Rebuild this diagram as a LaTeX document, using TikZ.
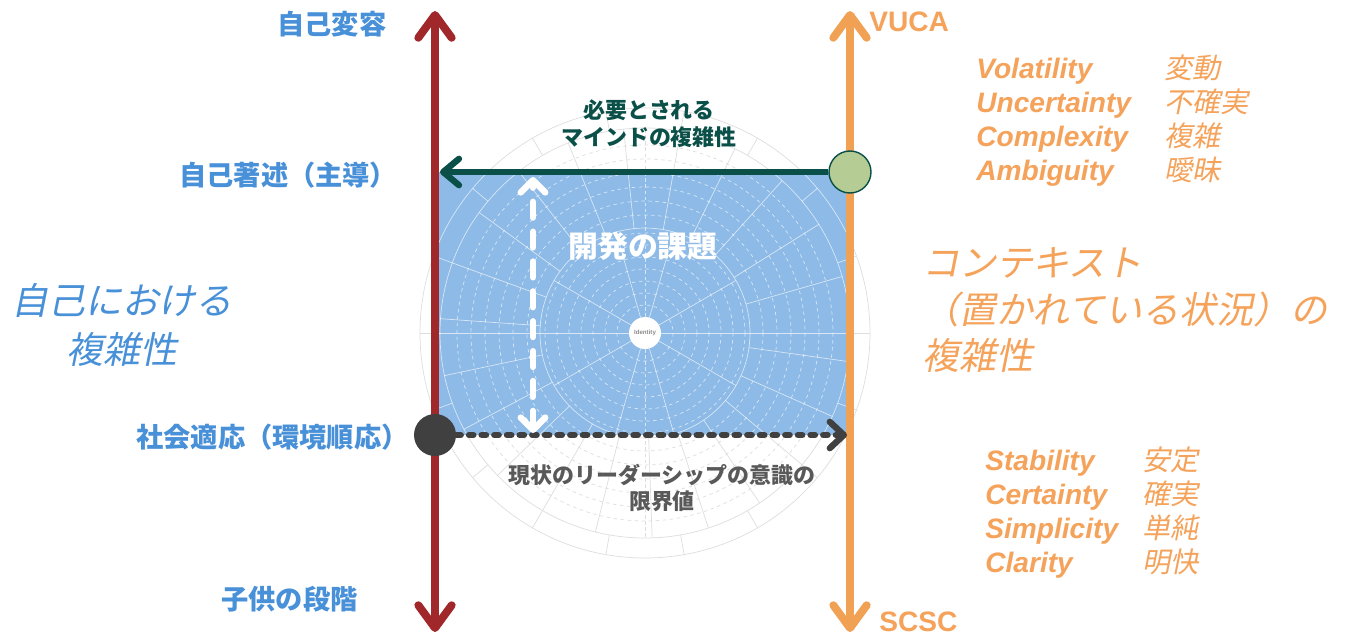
\documentclass[tikz,border=0pt]{standalone}
\usepackage{fontspec}
\setmainfont{Liberation Sans}
\newfontfamily\jp{Noto Sans CJK JP}
\newfontfamily\jpsl{Noto Sans CJK JP}[FakeSlant=0.2]
\usetikzlibrary{arrows.meta}

\definecolor{selfred}{RGB}{160,40,42}
\definecolor{ctxorange}{RGB}{241,161,84}
\definecolor{txtorange}{RGB}{245,162,90}
\definecolor{selfblue}{RGB}{72,144,216}
\definecolor{areablue}{RGB}{141,186,230}
\definecolor{mindteal}{RGB}{10,80,72}
\definecolor{nowgray}{RGB}{64,64,64}
\definecolor{dotgreen}{RGB}{181,204,148}
\definecolor{capgray}{RGB}{89,89,89}

% faint identity wheel behind the chart
\newcommand\wheel{%
  \draw (0,0) circle (105) (0,0) circle (205) (0,0) circle (225);
  \draw (-225,0) -- (225,0);
  \foreach \a in {30,74,106,150,210,254,286,330} \draw (\a:16) -- (\a:105);
  \foreach \a in {8,24,...,352} \draw (\a:105) -- (\a:205);
  \foreach \a in {0,20,...,340} \draw (\a:205) -- (\a:225);
  \foreach \r in {28,40,...,100} \draw[dash pattern=on 2pt off 2pt] (0,0) circle (\r);
  \foreach \r in {118,132,...,200} \draw[dash pattern=on 2pt off 2pt] (0,0) circle (\r);
  \draw[dash pattern=on 2pt off 1.5pt] (0,16) -- (0,205) (0,-16) -- (0,-205);
}

\begin{document}
\begin{tikzpicture}
[x=0.02cm,y=-0.02cm,
 axis/.style={line width=4.5pt,{Straight Barb[length=13pt,width=19pt,round]}-{Straight Barb[length=13pt,width=19pt,round]}},
 dot/.style={circle,minimum size=0.84cm,inner sep=0pt},
 selflabel/.style={font=\jp\bfseries\fontsize{15.5}{18}\selectfont,text=selfblue,inner sep=0pt},
 ctxlabel/.style={font=\bfseries\fontsize{16}{19}\selectfont,text=txtorange,inner sep=0pt},
 termen/.style={font=\bfseries\itshape\fontsize{16}{19}\selectfont,text=txtorange,inner sep=0pt},
 termja/.style={font=\jpsl\fontsize{16}{19}\selectfont,text=txtorange,inner sep=0pt}]
\useasboundingbox[fill=white] (0,0) rectangle (1363,637);

% wheel, blue area, wheel again in white inside the area
\begin{scope}[shift={(645,333)},color=black!13,line width=0.4pt]
  \wheel
\end{scope}
\fill[areablue] (439,172) rectangle (848,435);
\begin{scope}
  \clip (439,172) rectangle (848,435);
  \begin{scope}[shift={(645,333)},color=white,opacity=0.65,line width=0.4pt]
    \wheel
  \end{scope}
\end{scope}
\fill[white] (645,333) circle (16);
\node[font=\bfseries\fontsize{3.5}{4}\selectfont,text=black!45] (ident) at (645,333) {Identity};

% the two axes
\coordinate (redtop) at (435,11);
\coordinate (redbot) at (435,632);
\coordinate (orgtop) at (850,11);
\coordinate (orgbot) at (850,632);
\draw[axis,selfred] (redbot) -- (redtop);
\draw[axis,ctxorange] (orgbot) -- (orgtop);

\node[dot,fill=dotgreen,draw=mindteal,line width=0.8pt] (vdot) at (850,172) {};
\node[dot,fill=nowgray] (ndot) at (435,435) {};

\coordinate (mindend) at (440,172);
\coordinate (limend) at (847,435);
\coordinate (gaptop) at (533,177);
\coordinate (gapbot) at (533,433);
\draw[mindteal,line width=3.6pt,-{Straight Barb[length=9pt,width=15pt,round]}] (vdot) -- (mindend);
\draw[nowgray,line width=3.6pt,line cap=round,dash pattern=on 2.5pt off 4.7pt,
  -{Straight Barb[length=8pt,width=15pt,round]}] (ndot) -- (limend);
\draw[white,line width=3.6pt,line cap=round,dash pattern=on 9pt off 8pt,
  {Straight Barb[length=7pt,width=14pt,round]}-{Straight Barb[length=7pt,width=14pt,round]}] (gapbot) -- (gaptop);

% left side labels
\node[selflabel,anchor=west] (s4) at (277,24) {自己変容};
\node[selflabel,anchor=west] (s3) at (179,175) {自己著述（主導）};
\node[selflabel,anchor=west] (s2) at (136,437) {社会適応（環境順応）};
\node[selflabel,anchor=west] (s1) at (221,599) {子供の段階};
\node[font=\jpsl\fontsize{21}{28}\selectfont,text=selfblue,align=center] (selfcx) at (122,325) {自己における\\複雑性};

% labels in the middle
\node[font=\jp\bfseries\fontsize{12.5}{15.3}\selectfont,text=mindteal,align=center] (need) at (649,124) {必要とされる\\マインドの複雑性};
\node[font=\jp\bfseries\fontsize{17}{19}\selectfont,text=white] (gap) at (643,246) {開発の課題};
\node[font=\jp\bfseries\fontsize{12.5}{14.7}\selectfont,text=capgray,align=center] (limit) at (662,488) {現状のリーダーシップの意識の\\限界値};

% right side labels
\node[ctxlabel,anchor=west] (vuca) at (869,22) {VUCA};
\node[ctxlabel,anchor=west] (scsc) at (879,622) {SCSC};
\node[font=\jpsl\fontsize{21}{26.6}\selectfont,text=txtorange,align=left,anchor=west] (ctxcx) at (916,310)
  {コンテキスト\\（置かれている状況）の\\複雑性};
\foreach \w/\j [count=\i] in {Volatility/変動,Uncertainty/不確実,Complexity/複雑,Ambiguity/曖昧} {
  \node[termen,anchor=base west] (vu\i) at (976,44+34*\i) {\w};
  \node[termja,anchor=base west] (vj\i) at (1164,44+34*\i) {\j};
}
\foreach \w/\j [count=\i] in {Stability/安定,Certainty/確実,Simplicity/単純,Clarity/明快} {
  \node[termen,anchor=base west] (sc\i) at (985,436+34*\i) {\w};
  \node[termja,anchor=base west] (sj\i) at (1142,436+34*\i) {\j};
}
\end{tikzpicture}
\end{document}
